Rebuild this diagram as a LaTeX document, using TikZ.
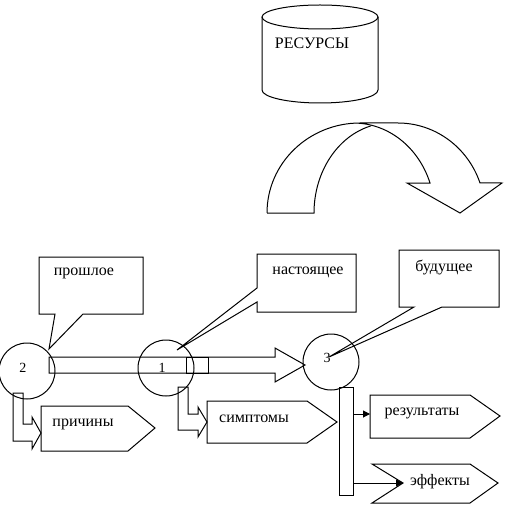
\documentclass[tikz,border=0pt]{standalone}
\usepackage{fontspec}
\setmainfont{Liberation Serif}
\usetikzlibrary{arrows.meta}

\tikzset{
  word/.style={font=\fontsize{16}{18}\selectfont, inner sep=0pt},
  digit/.style={font=\fontsize{14}{16}\selectfont, inner sep=0pt},
  ring/.style={draw, circle, minimum size=56pt, inner sep=0pt},
  feed/.style={-{Triangle[length=7pt,width=7pt]}},
}

\begin{document}
\begin{tikzpicture}[x=1pt, y=-1pt, line width=1pt]
		\useasboundingbox (0,0) rectangle (505,505);

		% Resources and turn arrow
		\draw (262,17) -- (262,90) arc[start angle=180, end angle=0, x radius=58, y radius=13] -- (378,17);
		\draw (320,17) ellipse[x radius=58, y radius=12];
		\node[word] (res) at (312,43) {РЕСУРСЫ};
		\draw (267,213) arc[start angle=180, end angle=270, x radius=93, y radius=90] -- (398,123)
			arc[start angle=270, end angle=340.5, x radius=87, y radius=90]
			-- (502,183) -- (460,213) -- (407,183) -- (430,183)
			arc[start angle=340.5, end angle=270, x radius=81, y radius=90];
		\draw (267,213) -- (314,213) arc[start angle=180, end angle=255.5, x radius=76, y radius=90];

		% Define nodes
		\node[ring] (c2) at (27,371) {};
		\node[ring] (c1) at (166,368) {};
		\node[ring] (c3) at (331,362) {};
		\node[digit] (n2) at (23,368) {2};
		\node[digit] (n1) at (162,368) {1};
		\node[digit] (n3) at (327,358) {3};

		% Time line
		\draw (49,357) -- (275,357) -- (275,348) -- (305,365) -- (275,382) -- (275,373) -- (49,373) -- cycle;
		\draw (186,357) rectangle (208,373);

		% Callouts
		\draw (39,257) -- (143,257) -- (143,314) -- (83,314) -- (49,349) -- (55,314) -- (39,314) -- cycle;
		\node[word] (past) at (84,273) {прошлое};
		\draw (257,254) -- (356,254) -- (356,312) -- (257,312) -- (257,302) -- (177,350) -- (257,288) -- cycle;
		\node[word] (now) at (308,272) {настоящее};
		\draw (399,250) -- (499,250) -- (499,307) -- (442,307) -- (329,357) -- (414,307) -- (399,307) -- cycle;
		\node[word] (next) at (444,267) {будущее};

		% Bent arrows
		\draw (13,393) -- (23,393) -- (23,424) -- (32,424) -- (32,417) -- (41,433) -- (32,449) -- (32,441) -- (13,441) -- cycle;
		\draw (178,387) -- (188,387) -- (188,414) -- (198,414) -- (198,407) -- (207,422) -- (198,437) -- (198,430) -- (178,430) -- cycle;

		% Outcome boxes
		\draw (41,406) -- (128,406) -- (155,428) -- (128,451) -- (41,451) -- cycle;
		\node[word] (cause) at (83,424) {причины};
		\draw (207,401) -- (307,401) -- (337,422) -- (307,443) -- (207,443) -- cycle;
		\node[word] (sympt) at (254,419) {симптомы};
		\draw (370,395) -- (470,395) -- (500,416) -- (470,438) -- (370,438) -- cycle;
		\node[word] (result) at (422,413) {результаты};
		\draw (372,464) -- (470,464) -- (498,483) -- (470,503) -- (372,503) -- (403,483) -- cycle;
		\node[word] (effect) at (440,482) {эффекты};

		% Connect the nodes
		\node[draw, minimum width=14pt, minimum height=108pt, inner sep=0pt] (bar) at (346,441) {};
		\coordinate (resin) at (370,414);
		\coordinate (effin) at (403,483);
		\draw[feed] (bar.east |- resin) -- (resin);
		\draw[feed] (bar.east |- effin) -- (effin);
	\end{tikzpicture}
\end{document}
